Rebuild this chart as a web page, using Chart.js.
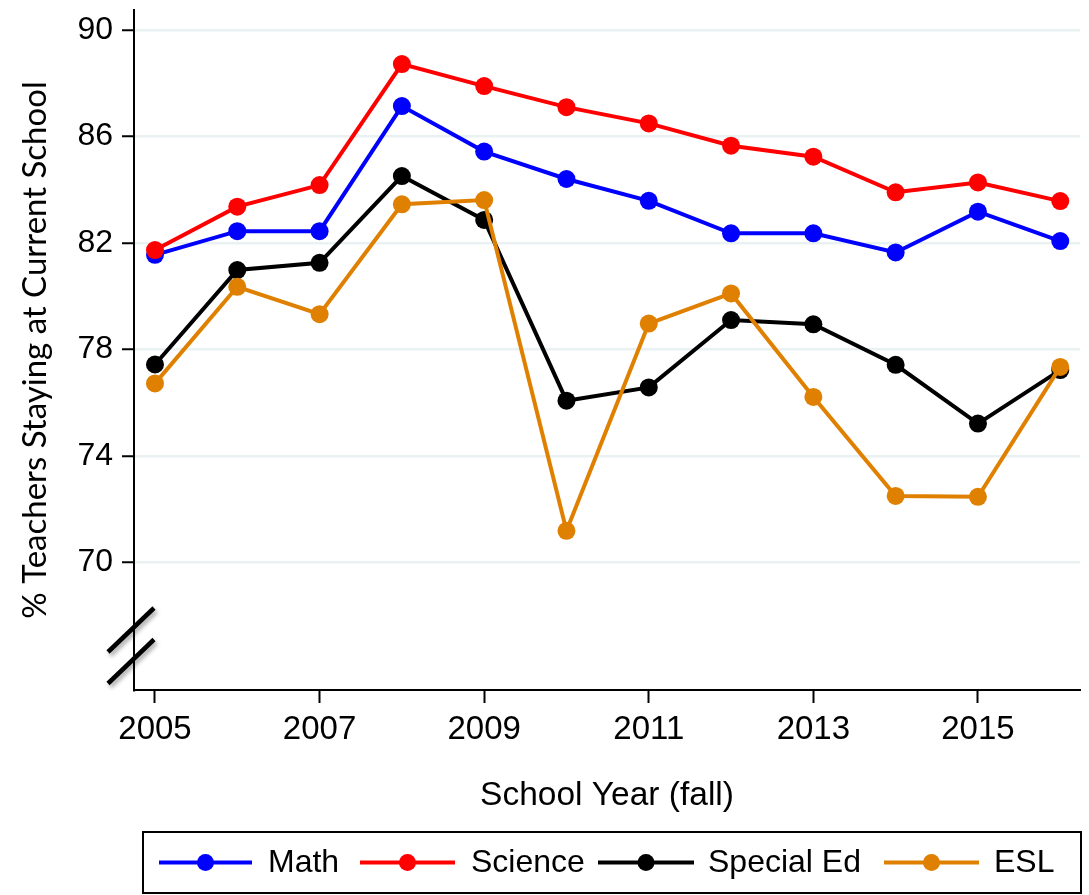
<!DOCTYPE html>
<html>
<head>
<meta charset="utf-8">
<title>Teacher Retention by Subject</title>
<script src="https://cdn.jsdelivr.net/npm/chart.js@4/dist/chart.umd.min.js"></script>
<style>
  html, body { margin: 0; padding: 0; background: #ffffff; }
  canvas { display: block; }
</style>
</head>
<body>
<canvas id="chart" width="1089" height="895"></canvas>
<script>
// School years (fall) and share of teachers staying at their current school, by subject
const years = [2005, 2006, 2007, 2008, 2009, 2010, 2011, 2012, 2013, 2014, 2015, 2016];
const mathValues      = [81.55, 82.44, 82.44, 87.14, 85.43, 84.40, 83.58, 82.36, 82.36, 81.64, 83.17, 82.07];
const scienceValues   = [81.73, 83.36, 84.17, 88.72, 87.89, 87.10, 86.49, 85.65, 85.24, 83.90, 84.27, 83.57];
const specialEdValues = [77.43, 80.98, 81.25, 84.51, 82.86, 76.07, 76.57, 79.10, 78.94, 77.42, 75.21, 77.22];
const eslValues       = [76.72, 80.35, 79.32, 83.45, 83.61, 71.18, 78.97, 80.10, 76.21, 72.49, 72.46, 77.34];

const xTickValues = [2005, 2007, 2009, 2011, 2013, 2015];
const yTickValues = [70, 74, 78, 82, 86, 90];

const FONT = '"Liberation Sans", Arial, Helvetica, sans-serif';
const TITLE_FONT_Y = 'Lato, "Liberation Sans", Arial, sans-serif';

function series(values) {
  return values.map((v, i) => ({ x: years[i], y: v }));
}

function lineDataset(label, values, color, order) {
  return {
    label: label,
    data: series(values),
    borderColor: color,
    backgroundColor: color,
    pointBackgroundColor: color,
    pointBorderColor: color,
    borderWidth: 4,
    pointRadius: 9,
    pointBorderWidth: 0,
    tension: 0,
    order: order,
    clip: false
  };
}

// Broken-axis marks drawn across the y axis below the lowest labelled tick
const axisBreakPlugin = {
  id: 'axisBreak',
  afterDatasetsDraw(chart) {
    const ctx = chart.ctx;
    const x0 = chart.chartArea.left;
    const centers = [630, 661.5];
    ctx.save();
    ctx.strokeStyle = '#000000';
    ctx.lineWidth = 4.5;
    ctx.lineCap = 'butt';
    ctx.shadowColor = 'rgba(0,0,0,0.35)';
    ctx.shadowBlur = 4;
    ctx.shadowOffsetX = 2;
    ctx.shadowOffsetY = 3;
    centers.forEach(cy => {
      ctx.beginPath();
      ctx.moveTo(x0 - 26, cy + 22);
      ctx.lineTo(x0 + 20, cy - 22);
      ctx.stroke();
    });
    ctx.restore();
  }
};

// Boxed legend below the x axis: line sample with a dot, then the label
const boxedLegendPlugin = {
  id: 'boxedLegend',
  afterDraw(chart) {
    const ctx = chart.ctx;
    const box = { left: 143, top: 832, right: 1081, bottom: 893 };
    const cy = 862.5;
    const slots = [
      { lineStart: 159, lineEnd: 252, textX: 268 },
      { lineStart: 360, lineEnd: 455, textX: 471 },
      { lineStart: 598, lineEnd: 694, textX: 708 },
      { lineStart: 884, lineEnd: 979, textX: 994 }
    ];
    ctx.save();
    ctx.fillStyle = '#ffffff';
    ctx.fillRect(box.left, box.top, box.right - box.left, box.bottom - box.top);
    ctx.strokeStyle = '#000000';
    ctx.lineWidth = 2;
    ctx.strokeRect(box.left, box.top, box.right - box.left, box.bottom - box.top);
    ctx.font = '32px ' + FONT;
    ctx.textBaseline = 'middle';
    ctx.textAlign = 'left';
    chart.data.datasets.forEach((ds, i) => {
      const s = slots[i];
      ctx.strokeStyle = ds.borderColor;
      ctx.lineWidth = 4;
      ctx.beginPath();
      ctx.moveTo(s.lineStart, cy);
      ctx.lineTo(s.lineEnd, cy);
      ctx.stroke();
      ctx.fillStyle = ds.borderColor;
      ctx.beginPath();
      ctx.arc((s.lineStart + s.lineEnd) / 2, cy, 8.5, 0, Math.PI * 2);
      ctx.fill();
      ctx.fillStyle = '#000000';
      ctx.fillText(ds.label, s.textX, cy + 1);
    });
    ctx.restore();
  }
};

new Chart(document.getElementById('chart'), {
  type: 'line',
  data: {
    datasets: [
      lineDataset('Math', mathValues, '#0000ff', 4),
      lineDataset('Science', scienceValues, '#ff0000', 3),
      lineDataset('Special Ed', specialEdValues, '#000000', 2),
      lineDataset('ESL', eslValues, '#e08000', 1)
    ]
  },
  options: {
    responsive: false,
    animation: false,
    devicePixelRatio: 1,
    layout: { padding: { left: 0, right: 8, top: 10, bottom: 75 } },
    plugins: {
      legend: { display: false },
      tooltip: { enabled: false }
    },
    scales: {
      x: {
        type: 'linear',
        min: 2004.745,
        max: 2016.24,
        afterBuildTicks(scale) {
          scale.ticks = xTickValues.map(v => ({ value: v }));
        },
        afterFit(scale) {
          scale.height = 130;
          scale.paddingLeft = 0;
          scale.paddingRight = 0;
        },
        border: { display: true, color: '#000000', width: 2 },
        grid: {
          drawOnChartArea: false,
          drawTicks: true,
          tickLength: 13,
          tickColor: '#000000',
          tickWidth: 2
        },
        ticks: {
          padding: 7,
          color: '#000000',
          font: { family: FONT, size: 33 },
          maxRotation: 0,
          callback: v => String(v)
        },
        title: {
          display: true,
          text: 'School Year (fall)',
          color: '#000000',
          font: { family: FONT, size: 33.5 },
          padding: { top: 0, bottom: 4 }
        }
      },
      y: {
        type: 'linear',
        min: 65.2,
        max: 90.75,
        afterBuildTicks(scale) {
          scale.ticks = yTickValues.map(v => ({ value: v }));
        },
        afterFit(scale) {
          scale.width = 134;
          scale.paddingTop = 0;
          scale.paddingBottom = 0;
        },
        border: { display: true, color: '#000000', width: 2 },
        grid: {
          color: '#eaf1f2',
          lineWidth: 2.5,
          drawTicks: true,
          tickLength: 12,
          tickColor: '#000000',
          tickWidth: 2
        },
        ticks: {
          padding: 9,
          color: '#000000',
          font: { family: FONT, size: 32 },
          callback: v => String(v)
        },
        title: {
          display: true,
          text: '% Teachers Staying at Current School',
          color: '#000000',
          font: { family: TITLE_FONT_Y, size: 33 },
          padding: { top: 16, bottom: 0 }
        }
      }
    }
  },
  plugins: [axisBreakPlugin, boxedLegendPlugin]
});
</script>
</body>
</html>
